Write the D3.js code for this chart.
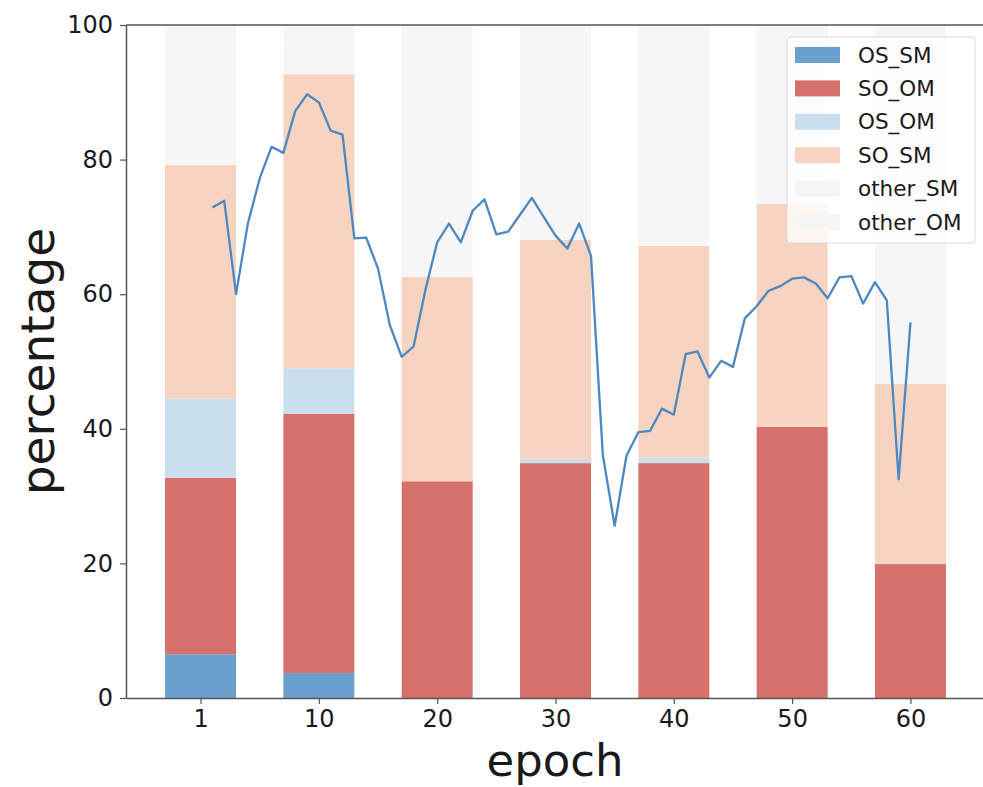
<!DOCTYPE html>
<html>
<head>
<meta charset="utf-8">
<script src="https://cdn.jsdelivr.net/npm/d3@7"></script>
<style>
  body { margin: 0; background: #fff; }
  text { font-family: "DejaVu Sans", sans-serif; fill: #1a1a1a; }
</style>
</head>
<body>
<svg id="chart" width="983" height="787"></svg>
<script>
// bar groups (epoch labels)
var epochs = ["1", "10", "20", "30", "40", "50", "60"];

// stacked series, bottom to top
var OS_SM    = [6.5, 3.7, 0, 0, 0, 0, 0];
var SO_OM    = [26.2, 38.5, 32.2, 34.9, 34.9, 40.3, 19.9];
var OS_OM    = [11.8, 6.8, 0, 0.6, 0.8, 0, 0];
var SO_SM    = [34.7, 43.7, 30.4, 32.6, 31.5, 33.1, 26.8];
var other_SM = [12.4, 4.1, 21.0, 17.6, 18.3, 14.9, 30.1];
var other_OM = [8.4, 3.2, 16.4, 14.3, 14.5, 11.7, 23.2];

var keys = ["OS_SM", "SO_OM", "OS_OM", "SO_SM", "other_SM", "other_OM"];
var colors = ["#6aa1cc", "#d6706a", "#c9dfed", "#f7d3c1", "#f6f6f6", "#f6f6f6"];

// per-epoch line (epochs 1..60)
var lineVals = [
  72.9, 73.9, 60.0, 70.5, 77.2, 81.9, 81.0, 87.2, 89.7, 88.5,
  84.3, 83.7, 68.3, 68.4, 63.8, 55.4, 50.7, 52.2, 60.6, 67.7,
  70.5, 67.7, 72.4, 74.1, 68.9, 69.3, 71.8, 74.3, 71.5, 68.7,
  66.8, 70.5, 65.7, 36.1, 25.6, 36.0, 39.5, 39.7, 43.0, 42.1,
  51.1, 51.5, 47.6, 50.1, 49.2, 56.4, 58.2, 60.5, 61.2, 62.3,
  62.5, 61.6, 59.4, 62.5, 62.7, 58.6, 61.8, 59.1, 32.5, 55.8
];

var yTicks = [0, 20, 40, 60, 80, 100];

(function() {
  var series = { OS_SM: OS_SM, SO_OM: SO_OM, OS_OM: OS_OM, SO_SM: SO_SM,
                 other_SM: other_SM, other_OM: other_OM };
  var table = epochs.map(function(e, i) {
    var row = { epoch: e, idx: i };
    keys.forEach(function(k) { row[k] = series[k][i]; });
    return row;
  });

  var svg = d3.select("#chart");
  var mLeft = 126, mRight = 985, mTop = 25, mBottom = 698;

  var x = d3.scaleLinear().domain([-0.63, 6.63]).range([mLeft, mRight]);
  var y = d3.scaleLinear().domain([0, 100]).range([mBottom, mTop]);
  var barW = x(0.6) - x(0);

  svg.append("rect").attr("width", 983).attr("height", 787).attr("fill", "#fff");

  // bars
  var stack = d3.stack().keys(keys)(table);
  svg.append("g").selectAll("g")
    .data(stack)
    .join("g")
      .attr("fill", function(d, i) { return colors[i]; })
    .selectAll("rect")
    .data(function(d) { return d; })
    .join("rect")
      .attr("x", function(d) { return x(d.data.idx) - barW / 2; })
      .attr("width", barW)
      .attr("y", function(d) { return y(d[1]); })
      .attr("height", function(d) { return y(d[0]) - y(d[1]); });

  // line, epoch e sits at e/10 bar units
  var line = d3.line()
    .x(function(d, i) { return x((i + 1) / 10); })
    .y(function(d) { return y(d); });
  svg.append("path")
    .datum(lineVals)
    .attr("fill", "none")
    .attr("stroke", "#4c88c2")
    .attr("stroke-width", 2.3)
    .attr("stroke-linejoin", "round")
    .attr("d", line);

  // axes
  var yAxis = d3.axisLeft(y).tickValues(yTicks).tickSize(6).tickSizeOuter(0).tickPadding(7);
  var gy = svg.append("g").attr("transform", "translate(" + mLeft + ",0)").call(yAxis);
  var xAxis = d3.axisBottom(x).tickValues(d3.range(epochs.length))
    .tickFormat(function(i) { return epochs[i]; })
    .tickSize(6).tickSizeOuter(0).tickPadding(6);
  var gx = svg.append("g").attr("transform", "translate(0," + mBottom + ")").call(xAxis);

  [gy, gx].forEach(function(g) {
    g.selectAll("path.domain").attr("stroke", "#555").attr("stroke-width", 1.5);
    g.selectAll("line").attr("stroke", "#555").attr("stroke-width", 1.2);
    g.selectAll("text").style("font-size", "24px").attr("fill", "#1a1a1a");
  });
  svg.append("line")
    .attr("x1", mLeft).attr("x2", mRight).attr("y1", mTop).attr("y2", mTop)
    .attr("stroke", "#555").attr("stroke-width", 1.5);

  // axis labels
  svg.append("text")
    .attr("transform", "translate(54," + ((mTop + mBottom) / 2) + ") rotate(-90)")
    .attr("text-anchor", "middle")
    .style("font-size", "47px")
    .text("percentage");
  svg.append("text")
    .attr("x", 555).attr("y", 776)
    .attr("text-anchor", "middle")
    .style("font-size", "45px")
    .text("epoch");

  // legend
  var lg = svg.append("g").attr("transform", "translate(787,37)");
  lg.append("rect")
    .attr("width", 188).attr("height", 206).attr("rx", 4)
    .attr("fill", "#fff").attr("fill-opacity", 0.8)
    .attr("stroke", "#dcdcdc");
  var item = lg.selectAll("g.item")
    .data(keys)
    .join("g")
      .attr("class", "item")
      .attr("transform", function(d, i) { return "translate(0," + (18 + i * 33.4) + ")"; });
  item.append("rect")
    .attr("x", 8).attr("y", -8).attr("width", 45).attr("height", 16)
    .attr("fill", function(d, i) { return colors[i]; });
  item.append("text")
    .attr("x", 71).attr("dy", "0.35em")
    .style("font-size", "21.5px")
    .text(function(d) { return d; });
})();
</script>
</body>
</html>
